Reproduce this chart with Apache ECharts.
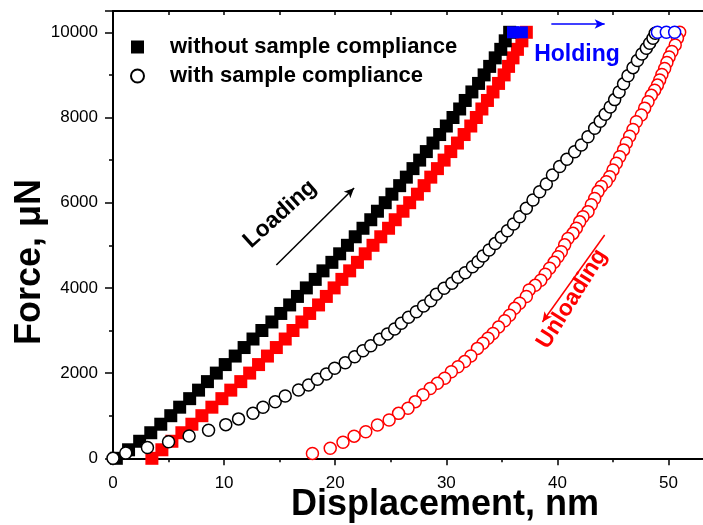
<!DOCTYPE html>
<html>
<head>
<meta charset="utf-8">
<script src="https://cdn.jsdelivr.net/npm/echarts@6/dist/echarts.min.js"></script>
<style>
  html, body { margin: 0; padding: 0; background: #fff; }
  #chart { width: 703px; height: 525px; }
</style>
</head>
<body>
<div id="chart"></div>
<script>
// Nanoindentation load–displacement curves: [displacement (nm), force (µN)]
const xTickLabels = [0, 10, 20, 30, 40, 50];
const yTickLabels = [0, 2000, 4000, 6000, 8000, 10000];

// Loading, without sample compliance (black squares)
const loadNoCompliance = [
  [0.3,0],[1.4,200],[2.4,400],[3.4,600],[4.3,800],[5.2,1000],[6.0,1200],[6.9,1400],[7.7,1600],[8.5,1800],
  [9.3,2000],[10.1,2200],[11.0,2400],[11.8,2600],[12.6,2800],[13.4,3000],[14.3,3200],[15.1,3400],[15.9,3600],[16.6,3800],
  [17.4,4000],[18.2,4200],[18.9,4400],[19.7,4600],[20.4,4800],[21.1,5000],[21.8,5200],[22.5,5400],[23.2,5600],[23.8,5800],
  [24.5,6000],[25.1,6200],[25.8,6400],[26.4,6600],[27.0,6800],[27.6,7000],[28.2,7200],[28.8,7400],[29.4,7600],[30.0,7800],
  [30.6,8000],[31.2,8200],[31.7,8400],[32.3,8600],[32.9,8800],[33.4,9000],[33.9,9200],[34.4,9400],[34.9,9600],[35.3,9800],
  [35.7,10000]
];
// Loading, red squares
const loadRed = [
  [3.5,0],[4.4,200],[5.3,400],[6.2,600],[7.1,800],[8.0,1000],[8.9,1200],[9.8,1400],[10.6,1600],[11.5,1800],
  [12.3,2000],[13.1,2200],[13.9,2400],[14.7,2600],[15.5,2800],[16.2,3000],[17.0,3200],[17.7,3400],[18.5,3600],[19.2,3800],
  [19.9,4000],[20.6,4200],[21.3,4400],[22.0,4600],[22.7,4800],[23.4,5000],[24.1,5200],[24.8,5400],[25.4,5600],[26.1,5800],
  [26.7,6000],[27.4,6200],[28.0,6400],[28.6,6600],[29.2,6800],[29.8,7000],[30.4,7200],[31.0,7400],[31.6,7600],[32.2,7800],
  [32.7,8000],[33.2,8200],[33.7,8400],[34.2,8600],[34.7,8800],[35.2,9000],[35.6,9200],[36.0,9400],[36.4,9600],[36.8,9800],
  [37.2,10000]
];
// Holding segment at peak load (blue squares)
const holdSquares = [[36.0,10000],[36.8,10000]];

// Loading, with sample compliance (black circles)
const loadWithCompliance = [
  [0,0],[1.15,125],[3.1,255],[5.0,390],[6.85,525],[8.6,660],[10.15,790],[11.3,925],[12.6,1056],[13.5,1197],
  [14.6,1329],[15.5,1462],[16.7,1603],[17.6,1721],[18.4,1854],[19.2,1979],[19.95,2113],[20.9,2244],[21.75,2385],[22.5,2526],
  [23.2,2643],[24.0,2793],[24.7,2918],[25.35,3035],[25.95,3169],[26.6,3310],[27.3,3441],[27.95,3575],[28.6,3700],[29.1,3850],
  [29.8,3991],[30.5,4108],[31.05,4249],[31.7,4357],[32.35,4498],[32.85,4615],[33.3,4749],[33.85,4890],[34.4,5040],[34.95,5190],
  [35.5,5340],[36.05,5500],[36.6,5670],[37.2,5869],[37.8,6063],[38.4,6258],[39.0,6440],[39.55,6650],[40.2,6850],[40.85,7019],
  [41.55,7197],[42.15,7354],[42.75,7549],[43.35,7746],[43.85,7910],[44.3,8075],[44.75,8245],[45.15,8420],[45.55,8600],[45.95,8790],
  [46.35,8980],[46.8,9170],[47.2,9340],[47.6,9490],[48.0,9624],[48.3,9742],[48.6,9859],[48.8,9977]
];
// Holding segment at peak load (blue circles)
const holdCircles = [[49.0,10000],[49.8,10000],[50.55,10000]];
// Unloading (red circles)
const unloadRed = [
  [51.0,10000],[50.8,9860],[50.6,9700],[50.3,9550],[50.05,9420],[49.85,9290],[49.65,9150],[49.4,9010],[49.2,8880],[49.0,8760],
  [48.75,8640],[48.45,8520],[48.15,8370],[47.85,8220],[47.55,8060],[47.1,7900],[46.8,7720],[46.5,7560],[46.2,7400],[45.95,7240],
  [45.6,7080],[45.3,6925],[45.0,6770],[44.7,6610],[44.4,6490],[43.95,6380],[43.65,6260],[43.35,6100],[43.05,5950],[42.75,5790],
  [42.3,5670],[42.0,5550],[41.7,5400],[41.4,5280],[40.95,5160],[40.65,5010],[40.35,4850],[40.05,4730],[39.7,4600],[39.3,4460],
  [38.9,4320],[38.5,4180],[38.0,4060],[37.45,3950],[37.2,3800],[36.6,3640],[36.15,3520],[35.7,3360],[35.25,3230],[34.7,3080],
  [34.2,2930],[33.75,2820],[33.3,2700],[32.8,2580],[32.2,2400],[31.65,2270],[31.05,2150],[30.45,2030],[29.85,1880],[29.2,1760],
  [28.55,1640],[27.9,1490],[27.2,1330],[26.55,1175],[25.7,1055],[24.85,900],[23.8,780],[22.75,625],[21.7,520],[20.7,375],
  [19.55,235],[17.95,115]
];

// Annotation arrows in data coordinates: [start, end]
const loadingArrow = [[14.7,4537],[21.7,6345]];
const holdingArrow = [[39.45,10195],[44.25,10195]];
const unloadingArrow = [[44.25,5243],[38.65,3200]];

const FONT = 'Arial, "Liberation Sans", sans-serif';
const chart = echarts.init(document.getElementById('chart'), null, { renderer: 'canvas' });

function arrowMark(seg, color) {
  return {
    silent: true,
    symbol: ['none', 'arrow'],
    symbolSize: [7, 10],
    label: { show: false },
    lineStyle: { color: color, width: 1.5, type: 'solid' },
    emphasis: { disabled: true },
    data: [[{ coord: seg[0] }, { coord: seg[1] }]]
  };
}

const option = {
  animation: false,
  backgroundColor: '#fff',
  // plot frame runs past the right edge of the canvas
  grid: { left: 113, top: 11, width: 600, height: 447.3, containLabel: false, outerBoundsMode: 'none' },
  legend: {
    left: 125, top: 31, orient: 'vertical', itemWidth: 13, itemHeight: 13, itemGap: 7,
    selectedMode: false,
    data: [
      { name: 'without sample compliance', icon: 'rect' },
      { name: 'with sample compliance', icon: 'circle' }
    ],
    textStyle: { fontFamily: FONT, fontSize: 22, fontWeight: 'bold', color: '#000', padding: [0, 0, 0, 21] }
  },
  xAxis: [
    {
      type: 'value', min: 0, max: 54, interval: 10, position: 'bottom',
      axisLine: { show: true, onZero: false, lineStyle: { color: '#000', width: 2 } },
      axisTick: { show: true, inside: false, length: 7, lineStyle: { color: '#000', width: 1.5 } },
      minorTick: { show: true, splitNumber: 2, length: 4, lineStyle: { color: '#000', width: 1.5 } },
      splitLine: { show: false },
      axisLabel: {
        fontFamily: FONT, fontSize: 17, color: '#000', margin: 17,
        formatter: v => xTickLabels.includes(v) ? String(v) : ''
      }
    },
    {
      type: 'value', min: 0, max: 54, interval: 5, position: 'top',
      axisLine: { show: true, onZero: false, lineStyle: { color: '#000', width: 2 } },
      axisTick: { show: true, inside: true, length: 4, lineStyle: { color: '#000', width: 1.5 } },
      splitLine: { show: false },
      axisLabel: { show: false }
    }
  ],
  yAxis: {
    type: 'value', min: 0, max: 10500, interval: 2000,
    axisLine: { show: true, onZero: false, lineStyle: { color: '#000', width: 2 } },
    axisTick: { show: true, inside: false, length: 8, lineStyle: { color: '#000', width: 1.5 } },
    minorTick: { show: true, splitNumber: 2, length: 4, lineStyle: { color: '#000', width: 1.5 } },
    splitLine: { show: false },
    axisLabel: {
      fontFamily: FONT, fontSize: 17, color: '#000', margin: 15,
      formatter: v => yTickLabels.includes(v) ? String(v) : ''
    }
  },
  series: [
    {
      name: 'loading (red)', type: 'scatter', data: loadRed, symbol: 'rect', symbolSize: 13,
      itemStyle: { color: '#ff0000', opacity: 1 }, z: 2, silent: true,
      markLine: arrowMark(loadingArrow, '#000')
    },
    {
      name: 'without sample compliance', type: 'scatter', data: loadNoCompliance, symbol: 'rect', symbolSize: 13,
      itemStyle: { color: '#000', opacity: 1 }, z: 3, silent: true
    },
    {
      name: 'holding squares', type: 'scatter', data: holdSquares, symbol: 'rect', symbolSize: 12,
      itemStyle: { color: '#0000ff', opacity: 1 }, z: 4, silent: true,
      markLine: arrowMark(holdingArrow, '#0000ff')
    },
    {
      name: 'with sample compliance', type: 'scatter', data: loadWithCompliance, symbol: 'circle', symbolSize: 12,
      itemStyle: { color: '#fff', borderColor: '#000', borderWidth: 1.5, opacity: 1 }, z: 5, silent: true
    },
    {
      name: 'unloading', type: 'scatter', data: unloadRed, symbol: 'circle', symbolSize: 12,
      itemStyle: { color: '#fff', borderColor: '#ff0000', borderWidth: 1.5, opacity: 1 }, z: 5, silent: true,
      markLine: arrowMark(unloadingArrow, '#ff0000')
    },
    {
      name: 'holding circles', type: 'scatter', data: holdCircles, symbol: 'circle', symbolSize: 12,
      itemStyle: { color: '#fff', borderColor: '#0000ff', borderWidth: 1.5, opacity: 1 }, z: 6, silent: true
    }
  ],
  graphic: [
    { type: 'text', x: 280, y: 214, rotation: 42 * Math.PI / 180, silent: true,
      style: { text: 'Loading', fill: '#000', font: 'bold 23px ' + FONT, align: 'center', verticalAlign: 'middle' } },
    { type: 'text', x: 577, y: 55, silent: true,
      style: { text: 'Holding', fill: '#0000ff', font: 'bold 23px ' + FONT, align: 'center', verticalAlign: 'middle' } },
    { type: 'text', x: 572, y: 299, rotation: 58 * Math.PI / 180, silent: true,
      style: { text: 'Unloading', fill: '#ff0000', font: 'bold 23px ' + FONT, align: 'center', verticalAlign: 'middle' } },
    { type: 'text', x: 30, y: 262, rotation: Math.PI / 2, silent: true,
      style: { text: 'Force, μN', fill: '#000', font: 'bold 36px ' + FONT, align: 'center', verticalAlign: 'middle' } },
    { type: 'text', x: 445, y: 505, silent: true,
      style: { text: 'Displacement, nm', fill: '#000', font: 'bold 36px ' + FONT, align: 'center', verticalAlign: 'middle' } }
  ]
};

chart.setOption(option);
</script>
</body>
</html>
